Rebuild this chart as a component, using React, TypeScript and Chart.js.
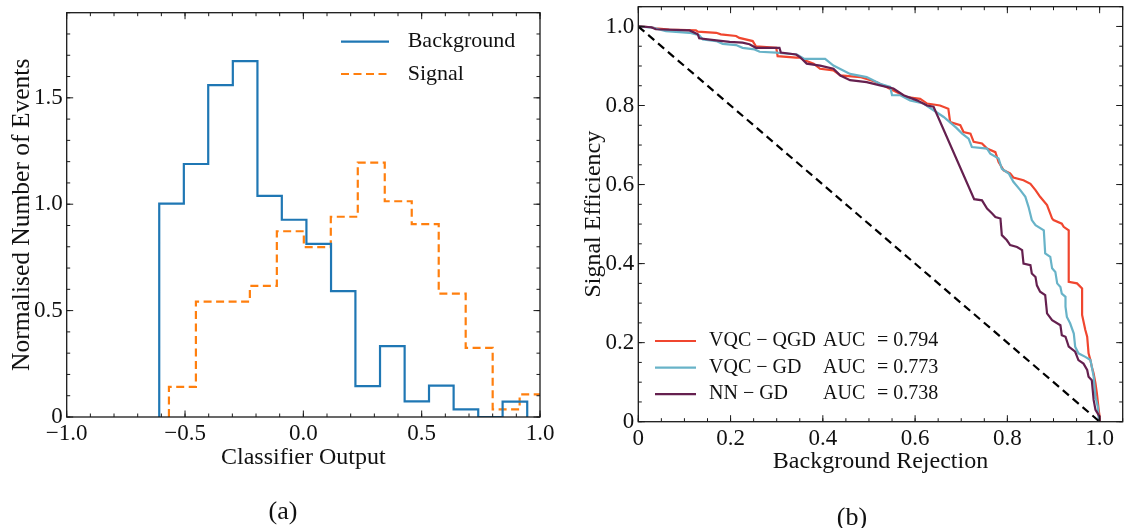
import React, { useEffect, useRef } from "react";
import { Chart, registerables } from "chart.js";

Chart.register(...registerables);

const SERIF = '"Liberation Serif", "DejaVu Serif", serif';

// ---------------- Panel (a): classifier output histogram ----------------
const backgroundBinEdges = [-0.609, -0.505, -0.402, -0.298, -0.194, -0.091, 0.013, 0.117, 0.22, 0.324, 0.428, 0.531, 0.635, 0.739, 0.842, 0.946];
const backgroundHeights = [1.003, 1.189, 1.56, 1.672, 1.039, 0.927, 0.814, 0.592, 0.145, 0.333, 0.073, 0.147, 0.036, 0.0, 0.072];
const signalBinEdges = [-0.568, -0.454, -0.34, -0.226, -0.112, 0.002, 0.116, 0.23, 0.344, 0.458, 0.572, 0.686, 0.8, 0.914, 1.028];
const signalHeights = [0.142, 0.542, 0.542, 0.616, 0.873, 0.798, 0.941, 1.195, 1.014, 0.906, 0.58, 0.325, 0.036, 0.106];

const histXTicks = [-1, -0.5, 0, 0.5, 1];
const histXTickLabels = ["\u22121.0", "\u22120.5", "0.0", "0.5", "1.0"];
const histYTicks = [0, 0.5, 1.0, 1.5];
const histYTickLabels = ["0", "0.5", "1.0", "1.5"];
const histLegendLabels = ["Background", "Signal"];

// ---------------- Panel (b): ROC curves ----------------
const vqcQgdRejection = [0, 0.028, 0.038, 0.067, 0.125, 0.129, 0.169, 0.179, 0.212, 0.219, 0.248, 0.255, 0.299, 0.302, 0.342, 0.351, 0.362, 0.38, 0.394, 0.423, 0.438, 0.481, 0.517, 0.553, 0.582, 0.611, 0.626, 0.654, 0.672, 0.676, 0.698, 0.705, 0.72, 0.727, 0.745, 0.756, 0.774, 0.781, 0.792, 0.806, 0.813, 0.835, 0.85, 0.861, 0.871, 0.886, 0.897, 0.9, 0.918, 0.922, 0.933, 0.933, 0.951, 0.962, 0.962, 0.969, 0.973, 0.976, 0.98, 0.983, 0.987, 0.991, 0.994, 0.998, 1.0, 1.0];
const vqcQgdEfficiency = [1.0, 0.998, 0.995, 0.992, 0.99, 0.987, 0.984, 0.98, 0.976, 0.971, 0.963, 0.95, 0.946, 0.925, 0.921, 0.921, 0.914, 0.906, 0.893, 0.889, 0.876, 0.872, 0.859, 0.838, 0.821, 0.817, 0.805, 0.8, 0.792, 0.758, 0.75, 0.733, 0.729, 0.708, 0.704, 0.691, 0.682, 0.657, 0.636, 0.628, 0.618, 0.611, 0.602, 0.586, 0.569, 0.548, 0.514, 0.51, 0.501, 0.493, 0.484, 0.354, 0.35, 0.337, 0.27, 0.232, 0.215, 0.173, 0.156, 0.139, 0.122, 0.097, 0.072, 0.03, 0.013, 0.0];

const vqcGdRejection = [0, 0.031, 0.06, 0.111, 0.132, 0.14, 0.169, 0.183, 0.212, 0.226, 0.252, 0.263, 0.299, 0.344, 0.36, 0.405, 0.423, 0.459, 0.495, 0.524, 0.546, 0.55, 0.568, 0.589, 0.618, 0.64, 0.662, 0.689, 0.702, 0.716, 0.723, 0.756, 0.763, 0.781, 0.788, 0.803, 0.813, 0.828, 0.839, 0.846, 0.853, 0.861, 0.879, 0.882, 0.893, 0.897, 0.904, 0.908, 0.915, 0.918, 0.926, 0.926, 0.929, 0.936, 0.944, 0.947, 0.954, 0.969, 0.98, 0.983, 0.987, 0.991, 0.996, 0.998, 1.0];
const vqcGdEfficiency = [1.0, 0.997, 0.988, 0.984, 0.978, 0.967, 0.963, 0.956, 0.953, 0.946, 0.942, 0.936, 0.934, 0.929, 0.918, 0.918, 0.901, 0.88, 0.872, 0.855, 0.847, 0.826, 0.826, 0.813, 0.805, 0.788, 0.771, 0.744, 0.729, 0.716, 0.695, 0.691, 0.678, 0.666, 0.64, 0.628, 0.607, 0.586, 0.569, 0.543, 0.51, 0.497, 0.484, 0.426, 0.417, 0.388, 0.379, 0.35, 0.341, 0.324, 0.316, 0.291, 0.265, 0.249, 0.223, 0.19, 0.173, 0.164, 0.156, 0.139, 0.114, 0.063, 0.038, 0.004, 0.0];

const nnGdRejection = [0, 0.028, 0.038, 0.111, 0.129, 0.132, 0.169, 0.198, 0.226, 0.241, 0.255, 0.306, 0.309, 0.342, 0.351, 0.365, 0.394, 0.423, 0.438, 0.459, 0.495, 0.524, 0.553, 0.575, 0.604, 0.626, 0.64, 0.728, 0.745, 0.756, 0.767, 0.774, 0.785, 0.788, 0.799, 0.806, 0.821, 0.832, 0.835, 0.85, 0.853, 0.861, 0.864, 0.871, 0.882, 0.886, 0.897, 0.915, 0.918, 0.926, 0.933, 0.947, 0.954, 0.965, 0.973, 0.976, 0.983, 0.987, 0.991, 1.0, 1.0];
const nnGdEfficiency = [1.0, 0.998, 0.993, 0.99, 0.98, 0.97, 0.965, 0.961, 0.959, 0.955, 0.946, 0.946, 0.934, 0.929, 0.922, 0.906, 0.901, 0.893, 0.876, 0.864, 0.859, 0.851, 0.843, 0.826, 0.813, 0.8, 0.797, 0.563, 0.56, 0.539, 0.527, 0.518, 0.514, 0.472, 0.459, 0.447, 0.442, 0.434, 0.4, 0.396, 0.375, 0.366, 0.345, 0.329, 0.32, 0.274, 0.257, 0.244, 0.219, 0.215, 0.19, 0.177, 0.156, 0.147, 0.131, 0.114, 0.105, 0.055, 0.03, 0.013, 0.0];

const chanceRejection = [0, 1];
const chanceEfficiency = [1, 0];

const rocModelNames = ["VQC \u2212 QGD", "VQC \u2212 GD", "NN \u2212 GD"];
const rocAucValues = ["0.794", "0.773", "0.738"];
const rocColors = ["#f0462f", "#68b3c8", "#65204f"];

const rocTicks = [0, 0.2, 0.4, 0.6, 0.8, 1.0];
const rocTickLabels = ["0", "0.2", "0.4", "0.6", "0.8", "1.0"];

// ---------------- helpers ----------------
function stepOutline(edges: number[], heights: number[]) {
  const pts: { x: number; y: number }[] = [{ x: edges[0], y: 0 }];
  for (let i = 0; i < heights.length; i++) {
    pts.push({ x: edges[i], y: heights[i] });
    pts.push({ x: edges[i + 1], y: heights[i] });
  }
  pts.push({ x: edges[heights.length], y: 0 });
  return pts;
}

function zipPoints(xs: number[], ys: number[]) {
  const n = Math.min(xs.length, ys.length);
  const pts: { x: number; y: number }[] = [];
  for (let i = 0; i < n; i++) pts.push({ x: xs[i], y: ys[i] });
  return pts;
}

function range(start: number, end: number, step: number) {
  const out: number[] = [];
  const n = Math.round((end - start) / step);
  for (let i = 0; i <= n; i++) out.push(+(start + i * step).toFixed(6));
  return out;
}

const axisFramePlugin = {
  id: "axisFrame",
  afterDatasetsDraw(chart: any, _args: any, opts: any) {
    const { ctx, chartArea, scales } = chart;
    const { left, right, top, bottom } = chartArea;
    const xs = scales.x;
    const ys = scales.y;
    ctx.save();
    ctx.strokeStyle = "#1a1a1a";
    ctx.lineWidth = 1;
    ctx.setLineDash([]);
    ctx.beginPath();
    const drawX = (vals: number[], len: number) => {
      for (const v of vals) {
        const p = xs.getPixelForValue(v);
        if (p < left - 0.5 || p > right + 0.5) continue;
        ctx.moveTo(p, bottom);
        ctx.lineTo(p, bottom - len);
        ctx.moveTo(p, top);
        ctx.lineTo(p, top + len);
      }
    };
    const drawY = (vals: number[], len: number) => {
      for (const v of vals) {
        const p = ys.getPixelForValue(v);
        if (p < top - 0.5 || p > bottom + 0.5) continue;
        ctx.moveTo(left, p);
        ctx.lineTo(left + len, p);
        ctx.moveTo(right, p);
        ctx.lineTo(right - len, p);
      }
    };
    drawX(opts.xMinor, 3.5);
    drawY(opts.yMinor, 3.5);
    drawX(opts.xMajor, 6.5);
    drawY(opts.yMajor, 6.5);
    ctx.stroke();
    ctx.lineWidth = 1.3;
    ctx.strokeRect(left, top, right - left, bottom - top);
    ctx.restore();
  },
};

const panelLegendPlugin = {
  id: "panelLegend",
  afterDraw(chart: any, _args: any, opts: any) {
    const { ctx, chartArea } = chart;
    ctx.save();
    ctx.font = `${opts.fontSize}px ${SERIF}`;
    ctx.textBaseline = "middle";
    ctx.textAlign = "left";
    ctx.fillStyle = "#111";
    opts.items.forEach((item: any, i: number) => {
      const y = chartArea.top + opts.top + i * opts.rowGap;
      const x0 = chartArea.left + opts.left;
      ctx.strokeStyle = item.color;
      ctx.lineWidth = 2.2;
      ctx.setLineDash(item.dash || []);
      ctx.beginPath();
      ctx.moveTo(x0, y);
      ctx.lineTo(x0 + opts.lineLen, y);
      ctx.stroke();
      ctx.setLineDash([]);
      item.texts.forEach((t: string, j: number) => ctx.fillText(t, x0 + opts.columns[j], y));
    });
    ctx.restore();
  },
};

function makeXScale(min: number, max: number, ticks: number[], labels: string[], title: string, titlePadBottom: number) {
  return {
    type: "linear",
    min,
    max,
    grid: { display: false, drawTicks: false },
    border: { display: false },
    afterBuildTicks: (s: any) => {
      s.ticks = ticks.map((v) => ({ value: v }));
    },
    afterFit: (s: any) => {
      s.height = 60;
      s.paddingLeft = 0;
      s.paddingRight = 0;
    },
    ticks: {
      callback: (_v: any, i: number) => labels[i],
      font: { family: SERIF, size: 23 },
      color: "#111",
      padding: 3,
      maxRotation: 0,
      minRotation: 0,
      autoSkip: false,
    },
    title: {
      display: true,
      text: title,
      font: { family: SERIF, size: 24 },
      color: "#111",
      padding: { top: 0, bottom: titlePadBottom },
    },
  };
}

function makeYScale(min: number, max: number, ticks: number[], labels: string[], title: string, titleSize: number, width: number, titlePadTop: number) {
  return {
    type: "linear",
    min,
    max,
    grid: { display: false, drawTicks: false },
    border: { display: false },
    afterBuildTicks: (s: any) => {
      s.ticks = ticks.map((v) => ({ value: v }));
    },
    afterFit: (s: any) => {
      s.width = width;
      s.paddingTop = 0;
      s.paddingBottom = 0;
    },
    ticks: {
      callback: (_v: any, i: number) => labels[i],
      font: { family: SERIF, size: 23 },
      color: "#111",
      padding: 4,
      autoSkip: false,
    },
    title: {
      display: true,
      text: title,
      font: { family: SERIF, size: titleSize },
      color: "#111",
      padding: { top: titlePadTop, bottom: 0 },
    },
  };
}

function histogramConfig(): any {
  const colors = ["#1f77b4", "#ff7f0e"];
  return {
    type: "line",
    data: {
      datasets: [
        {
          label: histLegendLabels[0],
          data: stepOutline(backgroundBinEdges, backgroundHeights),
          borderColor: colors[0],
          borderWidth: 2.2,
          pointRadius: 0,
          fill: false,
          tension: 0,
          borderJoinStyle: "miter",
        },
        {
          label: histLegendLabels[1],
          data: stepOutline(signalBinEdges, signalHeights),
          borderColor: colors[1],
          borderWidth: 2.2,
          borderDash: [8, 4.5],
          pointRadius: 0,
          fill: false,
          tension: 0,
          borderJoinStyle: "miter",
        },
      ],
    },
    options: {
      responsive: false,
      animation: false,
      events: [],
      layout: { padding: { left: 0, top: 12.7, right: 588, bottom: 51 } },
      scales: {
        x: makeXScale(-1, 1, histXTicks, histXTickLabels, "Classifier Output", 4.6),
        y: makeYScale(0, 1.9, histYTicks, histYTickLabels, "Normalised Number of Events", 25.5, 66.7, 7),
      },
      plugins: {
        legend: { display: false },
        tooltip: { enabled: false },
        axisFrame: {
          xMajor: histXTicks,
          xMinor: range(-1, 1, 0.1),
          yMajor: histYTicks,
          yMinor: range(0, 1.9, 0.1),
        },
        panelLegend: {
          fontSize: 22,
          left: 274.3,
          top: 29,
          rowGap: 32.3,
          lineLen: 48,
          columns: [66.7],
          items: [
            { color: colors[0], texts: [histLegendLabels[0]] },
            { color: colors[1], dash: [8, 4.5], texts: [histLegendLabels[1]] },
          ],
        },
      },
    },
    plugins: [axisFramePlugin, panelLegendPlugin],
  };
}

function rocConfig(): any {
  const curves = [
    { name: rocModelNames[0], pts: zipPoints(vqcQgdRejection, vqcQgdEfficiency), color: rocColors[0] },
    { name: rocModelNames[1], pts: zipPoints(vqcGdRejection, vqcGdEfficiency), color: rocColors[1] },
    { name: rocModelNames[2], pts: zipPoints(nnGdRejection, nnGdEfficiency), color: rocColors[2] },
  ];
  const lineDatasets = curves
    .map((c) => ({
      label: c.name,
      data: c.pts,
      borderColor: c.color,
      borderWidth: 2.2,
      pointRadius: 0,
      fill: false,
      tension: 0,
    }))
    .reverse();
  return {
    type: "line",
    data: {
      datasets: [
        {
          label: "chance",
          data: zipPoints(chanceRejection, chanceEfficiency),
          borderColor: "#000",
          borderWidth: 2.2,
          borderDash: [8, 5],
          pointRadius: 0,
          fill: false,
          tension: 0,
        },
        ...lineDatasets,
      ],
    },
    options: {
      responsive: false,
      animation: false,
      events: [],
      layout: { padding: { left: 570, top: 6.7, right: 5.3, bottom: 46.3 } },
      scales: {
        x: makeXScale(0, 1.05, rocTicks, rocTickLabels, "Background Rejection", 5.3),
        y: makeYScale(0, 1.05, rocTicks, rocTickLabels, "Signal Efficiency", 24, 68.3, 9.6),
      },
      plugins: {
        legend: { display: false },
        tooltip: { enabled: false },
        axisFrame: {
          xMajor: rocTicks,
          xMinor: range(0, 1.05, 0.05),
          yMajor: rocTicks,
          yMinor: range(0, 1.05, 0.05),
        },
        panelLegend: {
          fontSize: 20,
          left: 16.7,
          top: 334.3,
          rowGap: 26.6,
          lineLen: 41,
          columns: [54, 168, 222],
          items: curves.map((c, i) => ({
            color: c.color,
            texts: [c.name, "AUC", "= " + rocAucValues[i]],
          })),
        },
      },
    },
    plugins: [axisFramePlugin, panelLegendPlugin],
  };
}

export default function App() {
  const leftRef = useRef<HTMLCanvasElement>(null);
  const rightRef = useRef<HTMLCanvasElement>(null);

  useEffect(() => {
    const c1 = new Chart(leftRef.current as HTMLCanvasElement, histogramConfig());
    const c2 = new Chart(rightRef.current as HTMLCanvasElement, rocConfig());
    return () => {
      c1.destroy();
      c2.destroy();
    };
  }, []);

  const caption: React.CSSProperties = {
    position: "absolute",
    transform: "translate(-50%, -50%)",
    fontFamily: SERIF,
    fontSize: 26,
    lineHeight: 1,
    color: "#111",
    whiteSpace: "nowrap",
  };

  return (
    <div style={{ position: "absolute", left: 0, top: 0, width: 1128, height: 528, background: "#fff", overflow: "hidden" }}>
      <canvas ref={leftRef} width={1128} height={528} style={{ position: "absolute", left: 0, top: 0 }} />
      <canvas ref={rightRef} width={1128} height={528} style={{ position: "absolute", left: 0, top: 0 }} />
      <div style={{ ...caption, left: 283, top: 511 }}>(a)</div>
      <div style={{ ...caption, left: 852, top: 517 }}>(b)</div>
    </div>
  );
}
